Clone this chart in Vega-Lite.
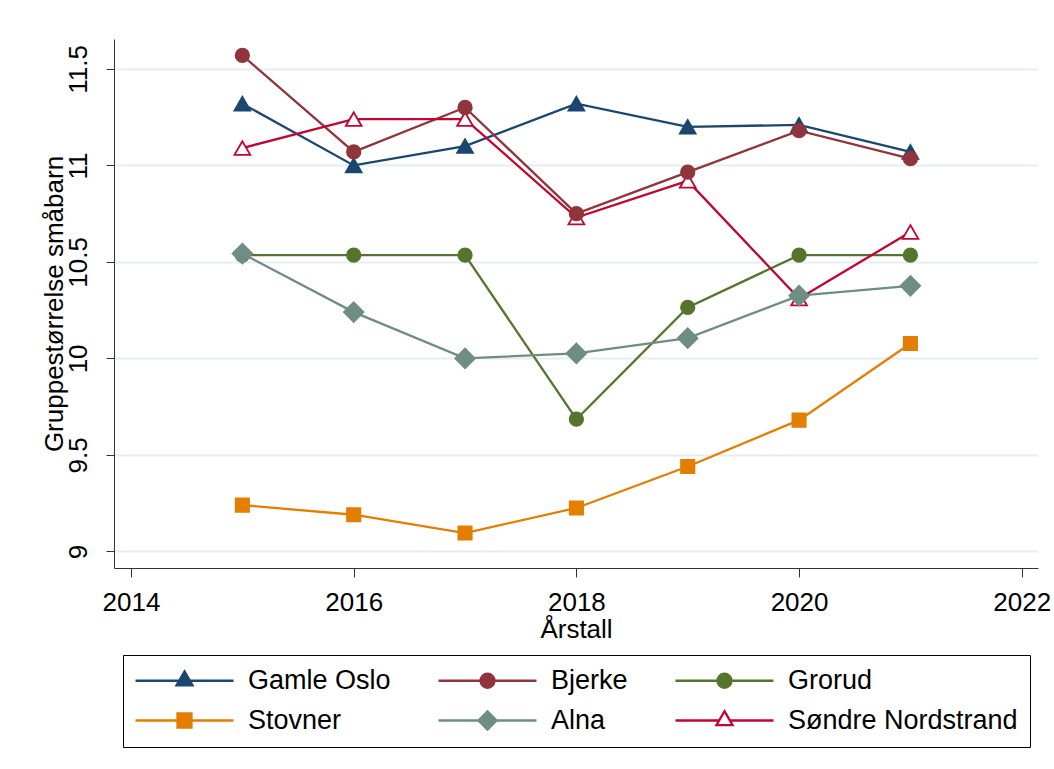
{
  "$schema": "https://vega.github.io/schema/vega-lite/v6.json",
  "width": 924,
  "height": 529,
  "autosize": "none",
  "padding": {"left": 114, "top": 39, "right": 16, "bottom": 201},
  "background": "white",
  "config": {
    "view": {"stroke": null},
    "font": "Liberation Sans",
    "axis": {"labelFont": "Liberation Sans", "titleFont": "Liberation Sans", "titleFontWeight": "normal", "labelColor": "black", "titleColor": "black"},
    "legend": {"labelFont": "Liberation Sans"}
  },
  "data": {
    "values": [
      {"year": 2015, "series": "Gamle Oslo", "value": 11.32},
      {"year": 2016, "series": "Gamle Oslo", "value": 11.0},
      {"year": 2017, "series": "Gamle Oslo", "value": 11.1},
      {"year": 2018, "series": "Gamle Oslo", "value": 11.32},
      {"year": 2019, "series": "Gamle Oslo", "value": 11.2},
      {"year": 2020, "series": "Gamle Oslo", "value": 11.21},
      {"year": 2021, "series": "Gamle Oslo", "value": 11.07},
      {"year": 2015, "series": "Bjerke", "value": 11.57},
      {"year": 2016, "series": "Bjerke", "value": 11.07},
      {"year": 2017, "series": "Bjerke", "value": 11.3},
      {"year": 2018, "series": "Bjerke", "value": 10.75},
      {"year": 2019, "series": "Bjerke", "value": 10.965},
      {"year": 2020, "series": "Bjerke", "value": 11.18},
      {"year": 2021, "series": "Bjerke", "value": 11.035},
      {"year": 2015, "series": "Grorud", "value": 10.535},
      {"year": 2016, "series": "Grorud", "value": 10.535},
      {"year": 2017, "series": "Grorud", "value": 10.535},
      {"year": 2018, "series": "Grorud", "value": 9.685},
      {"year": 2019, "series": "Grorud", "value": 10.264},
      {"year": 2020, "series": "Grorud", "value": 10.535},
      {"year": 2021, "series": "Grorud", "value": 10.535},
      {"year": 2015, "series": "Stovner", "value": 9.24},
      {"year": 2016, "series": "Stovner", "value": 9.19},
      {"year": 2017, "series": "Stovner", "value": 9.095},
      {"year": 2018, "series": "Stovner", "value": 9.225},
      {"year": 2019, "series": "Stovner", "value": 9.44},
      {"year": 2020, "series": "Stovner", "value": 9.68},
      {"year": 2021, "series": "Stovner", "value": 10.077},
      {"year": 2015, "series": "Alna", "value": 10.543},
      {"year": 2016, "series": "Alna", "value": 10.24},
      {"year": 2017, "series": "Alna", "value": 10.0},
      {"year": 2018, "series": "Alna", "value": 10.026},
      {"year": 2019, "series": "Alna", "value": 10.105},
      {"year": 2020, "series": "Alna", "value": 10.325},
      {"year": 2021, "series": "Alna", "value": 10.376},
      {"year": 2015, "series": "Søndre Nordstrand", "value": 11.09},
      {"year": 2016, "series": "Søndre Nordstrand", "value": 11.24},
      {"year": 2017, "series": "Søndre Nordstrand", "value": 11.24},
      {"year": 2018, "series": "Søndre Nordstrand", "value": 10.73},
      {"year": 2019, "series": "Søndre Nordstrand", "value": 10.92},
      {"year": 2020, "series": "Søndre Nordstrand", "value": 10.31},
      {"year": 2021, "series": "Søndre Nordstrand", "value": 10.655}
    ]
  },
  "encoding": {
    "x": {
      "field": "year", "type": "quantitative",
      "scale": {"domain": [2013.847, 2022.146], "nice": false, "zero": false},
      "axis": {
        "values": [2014, 2016, 2018, 2020, 2022], "format": "d", "title": "Årstall",
        "grid": false, "domainColor": "#333333", "domainWidth": 1, "tickColor": "#333333", "tickWidth": 1, "tickSize": 9,
        "labelFontSize": 26, "labelPadding": 12, "titleFontSize": 26, "titlePadding": 1, "labelFlush": false, "labelOverlap": false
      }
    },
    "y": {
      "field": "value", "type": "quantitative",
      "scale": {"domain": [8.914, 11.655], "nice": false, "zero": false},
      "axis": {
        "values": [9, 9.5, 10, 10.5, 11, 11.5], "format": "~g", "title": "Gruppestørrelse småbarn",
        "grid": true, "gridColor": "#e6eef1", "gridWidth": 2,
        "domainColor": "#333333", "domainWidth": 1, "tickColor": "#333333", "tickWidth": 1, "tickSize": 8,
        "labelFontSize": 26, "labelAngle": 270, "labelAlign": "center", "labelBaseline": "alphabetic", "labelPadding": 20,
        "titleFontSize": 26, "titlePadding": -2, "labelFlush": false, "labelOverlap": false
      }
    }
  },
  "layer": [
    {
      "mark": {"type": "line", "strokeWidth": 2.3},
      "encoding": {
        "color": {
          "field": "series", "type": "nominal",
          "scale": {
            "domain": ["Gamle Oslo", "Bjerke", "Grorud", "Stovner", "Alna", "Søndre Nordstrand"],
            "range": ["#1a476f", "#90353b", "#55752f", "#e37e00", "#6e8e84", "#c10534"]
          },
          "legend": {
            "title": null,
            "orient": "none",
            "legendX": 9,
            "legendY": 616,
            "direction": "horizontal",
            "columns": 3,
            "padding": 12,
            "strokeColor": "black",
            "fillColor": "white",
            "labelFontSize": 27,
            "labelColor": "black",
            "labelLimit": 400,
            "symbolSize": 196,
            "symbolStrokeWidth": 2,
            "symbolOffset": 36,
            "labelOffset": 50,
            "columnPadding": 42,
            "rowPadding": 12,
            "encode": {
              "symbols": {
                "update": {
                  "shape": {"signal": "{'Gamle Oslo': 'M-7,0L7,0M0,-1.33L1.15,0.66L-1.15,0.66Z', 'Bjerke': 'M-7,0L7,0M-1,0A1,1,0,1,1,1,0A1,1,0,1,1,-1,0Z', 'Grorud': 'M-7,0L7,0M-1,0A1,1,0,1,1,1,0A1,1,0,1,1,-1,0Z', 'Stovner': 'M-7,0L7,0M-1,-1L1,-1L1,1L-1,1Z', 'Alna': 'M-7,0L7,0M0,-1.3L1.3,0L0,1.3L-1.3,0Z', 'Søndre Nordstrand': 'M-7,0L-0.77,0M0.77,0L7,0M0,-1.33L1.15,0.66L-1.15,0.66Z'}[datum.value]"},
                  "fill": {"signal": "{'Gamle Oslo': '#1a476f', 'Bjerke': '#90353b', 'Grorud': '#55752f', 'Stovner': '#e37e00', 'Alna': '#6e8e84', 'Søndre Nordstrand': '#ffffff'}[datum.value]"},
                  "stroke": {"signal": "{'Gamle Oslo': '#1a476f', 'Bjerke': '#90353b', 'Grorud': '#55752f', 'Stovner': '#e37e00', 'Alna': '#6e8e84', 'Søndre Nordstrand': '#c10534'}[datum.value]"},
                  "fillOpacity": {"value": 1},
                  "opacity": {"value": 1},
                  "strokeWidth": {"value": 2.3}
                }
              }
            }
          }
        }
      }
    },
    {
      "encoding": {
        "fill": {
          "field": "series", "type": "nominal",
          "scale": {
            "domain": ["Gamle Oslo", "Bjerke", "Grorud", "Stovner", "Alna", "Søndre Nordstrand"],
            "range": ["#1a476f", "#90353b", "#55752f", "#e37e00", "#6e8e84", "#ffffff"]
          },
          "legend": null
        },
        "stroke": {
          "field": "series", "type": "nominal",
          "scale": {
            "domain": ["Gamle Oslo", "Bjerke", "Grorud", "Stovner", "Alna", "Søndre Nordstrand"],
            "range": ["#1a476f", "#90353b", "#55752f", "#e37e00", "#6e8e84", "#c10534"]
          },
          "legend": null
        }
      },
      "layer": [
        {
          "transform": [{"filter": {"field": "series", "oneOf": ["Gamle Oslo", "Søndre Nordstrand"]}}],
          "mark": {"type": "point", "shape": "triangle-up", "size": 250, "filled": false, "strokeWidth": 1.8, "opacity": 1}
        },
        {
          "transform": [{"filter": {"field": "series", "oneOf": ["Bjerke", "Grorud"]}}],
          "mark": {"type": "point", "shape": "circle", "size": 190, "filled": false, "strokeWidth": 1.5, "opacity": 1}
        },
        {
          "transform": [{"filter": {"field": "series", "oneOf": ["Stovner"]}}],
          "mark": {"type": "point", "shape": "square", "size": 185, "filled": false, "strokeWidth": 1.5, "opacity": 1}
        },
        {
          "transform": [{"filter": {"field": "series", "oneOf": ["Alna"]}}],
          "mark": {"type": "point", "shape": "diamond", "size": 400, "filled": false, "strokeWidth": 1.5, "opacity": 1}
        }
      ]
    }
  ]
}
